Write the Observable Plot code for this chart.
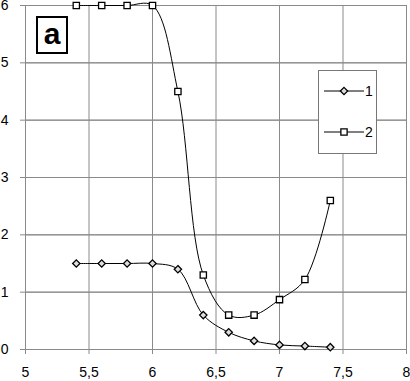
<!DOCTYPE html>
<html><head><meta charset="utf-8">
<script src="https://cdn.jsdelivr.net/npm/d3@7"></script>
<script src="https://cdn.jsdelivr.net/npm/@observablehq/plot@0.6"></script>
<style>
body{margin:0;background:#fff;font-family:"Liberation Sans",Arial,sans-serif;}
#wrap{position:relative;width:410px;height:381px;overflow:hidden;}
#panel{position:absolute;left:36px;top:16px;width:28px;height:34px;border:2px solid #000;background:#fff;
  font:bold 30px "Liberation Sans",Arial,sans-serif;text-align:center;line-height:32px;}
</style></head><body><div id="wrap"></div>
<script>
const xValues = [5.4, 5.6, 5.8, 6.0, 6.2, 6.4, 6.6, 6.8, 7.0, 7.2, 7.4];
const series1 = [1.5, 1.5, 1.5, 1.5, 1.4, 0.6, 0.3, 0.15, 0.08, 0.06, 0.04];
const series2 = [6, 6, 6, 6, 4.5, 1.3, 0.6, 0.6, 0.87, 1.22, 2.6];
const seriesNames = ["1", "2"];
const xTicks = [5, 5.5, 6, 6.5, 7, 7.5, 8];
const yTicks = [0, 1, 2, 3, 4, 5, 6];
const panelLabel = "a";

const d1 = xValues.map((x, i) => ({x, y: series1[i]}));
const d2 = xValues.map((x, i) => ({x, y: series2[i]}));
const fmt = d => String(d).replace(".", ",");
const gridColor = "#8a8a8a";

const plot = Plot.plot({
  width: 410, height: 381,
  marginLeft: 25, marginRight: 4, marginTop: 5, marginBottom: 32,
  style: {fontFamily: '"Liberation Sans", Arial, sans-serif', fontSize: "14px", color: "#000", background: "#fff"},
  x: {domain: [5, 8], ticks: xTicks, tickFormat: fmt},
  y: {domain: [0, 6], ticks: yTicks},
  marks: [
    Plot.ruleX(xTicks, {stroke: gridColor, strokeWidth: 1}),
    Plot.ruleY(yTicks, {stroke: gridColor, strokeWidth: 1}),
    Plot.axisX({ticks: xTicks, tickFormat: fmt, tickSize: 5, tickPadding: 13, stroke: gridColor, label: null, fill: "#000"}),
    Plot.tickY(yTicks, {y: d => d, frameAnchor: "left", stroke: gridColor}),
    Plot.axisY({ticks: yTicks, tickSize: 5, stroke: gridColor, text: null, label: null}),
    Plot.text(yTicks, {y: d => d, text: d => String(d), frameAnchor: "left", dx: -17, textAnchor: "end", fill: "#000", fontSize: 14}),
    Plot.line(d1, {x: "x", y: "y", curve: "catmull-rom", stroke: "#000", strokeWidth: 1}),
    Plot.line(d2, {x: "x", y: "y", curve: "catmull-rom", stroke: "#000", strokeWidth: 1}),
    Plot.dot(d1, {x: "x", y: "y", symbol: "diamond2", r: 3.3, fill: "#ddd", stroke: "#000", strokeWidth: 1.3}),
    Plot.dot(d2, {x: "x", y: "y", symbol: "square2", r: 4, fill: "#fff", stroke: "#000", strokeWidth: 1.3})
  ]
});
document.getElementById("wrap").appendChild(plot);

// legend
const svg = d3.select(plot);
const lg = svg.append("g");
lg.append("rect").attr("x", 318.5).attr("y", 70.5).attr("width", 58).attr("height", 83)
  .attr("fill", "#fff").attr("stroke", "#777");
const entries = [{name: seriesNames[0], y: 91, sym: d3.symbolDiamond2, size: 34, fill: "#ddd"},
                 {name: seriesNames[1], y: 132, sym: d3.symbolSquare2, size: 50, fill: "#fff"}];
for (const e of entries) {
  lg.append("line").attr("x1", 324).attr("x2", 364).attr("y1", e.y).attr("y2", e.y).attr("stroke", "#000");
  lg.append("path").attr("d", d3.symbol(e.sym, e.size)())
    .attr("transform", `translate(344,${e.y})`).attr("fill", e.fill).attr("stroke", "#000").attr("stroke-width", 1.3);
  lg.append("text").attr("x", 369).attr("y", e.y).attr("dy", "0.35em").attr("font-size", 14).text(e.name);
}
const p = document.createElement("div");
p.id = "panel"; p.textContent = panelLabel;
document.getElementById("wrap").appendChild(p);
</script></body></html>
